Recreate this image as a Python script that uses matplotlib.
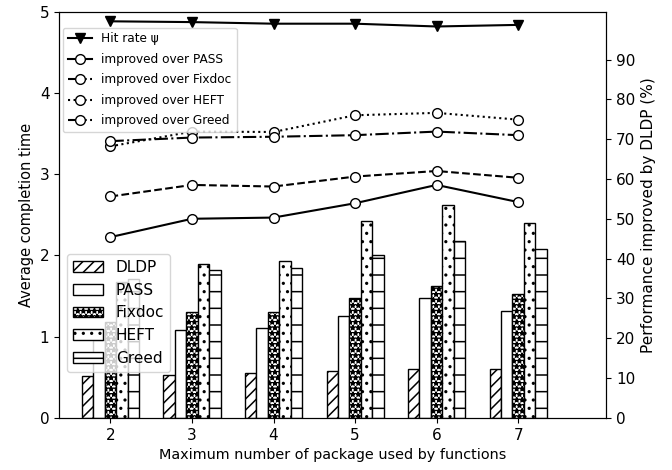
import numpy as np
import matplotlib.pyplot as plt

# maximum number of packages per function
n_pkg = np.array([2, 3, 4, 5, 6, 7])

# average completion time of each method
t_dldp = np.array([0.52, 0.53, 0.55, 0.58, 0.60, 0.60])
t_pass = np.array([0.96, 1.08, 1.10, 1.25, 1.48, 1.31])
t_fixdoc = np.array([1.18, 1.30, 1.30, 1.47, 1.62, 1.52])
t_heft = np.array([1.67, 1.89, 1.93, 2.42, 2.62, 2.40])
t_greed = np.array([1.71, 1.82, 1.85, 2.00, 2.18, 2.08])

# hit rate and improvement of DLDP over the others (%)
hit_rate = np.array([99.6, 99.4, 99.0, 99.0, 98.3, 98.7])
imp_pass = np.array([45.4, 50.0, 50.3, 53.9, 58.5, 54.2])
imp_fixdoc = np.array([55.6, 58.5, 58.1, 60.6, 62.0, 60.3])
imp_heft = np.array([68.2, 71.9, 71.8, 76.0, 76.6, 74.9])
imp_greed = np.array([69.5, 70.4, 70.6, 71.0, 71.9, 71.0])

plt.rcParams['font.family'] = 'DejaVu Sans'
plt.rcParams['hatch.linewidth'] = 1.1

fig = plt.figure(figsize=(6.72, 4.7), dpi=100)
ax1 = fig.add_axes([0.088, 0.111, 0.814, 0.864])

w = 0.14
bars = [(t_dldp, '///', 'DLDP'), (t_pass, '', 'PASS'), (t_fixdoc, '***', 'Fixdoc'),
        (t_heft, '..', 'HEFT'), (t_greed, '-', 'Greed')]
for i, (vals, hatch, name) in enumerate(bars):
    ax1.bar(n_pkg + (i - 2) * w, vals, w, color='white', edgecolor='black',
            hatch=hatch, linewidth=1.0, label=name)

ax1.set_xlim(1.37, 8.08)
ax1.set_ylim(0, 5)
ax1.set_xticks(n_pkg)
ax1.set_xlabel('Maximum number of package used by functions', fontsize=10.4)
ax1.set_ylabel('Average completion time', fontsize=10.5)
ax1.tick_params(labelsize=11)
ax1.legend(loc='lower left', bbox_to_anchor=(0.0, 0.095), fontsize=11,
           handlelength=2.0, borderaxespad=0.5)

ax2 = ax1.twinx()
ax2.plot(n_pkg, hit_rate, '-v', color='black', markersize=7, label='Hit rate ψ')
styles = [(imp_pass, '-', 'improved over PASS'),
          (imp_fixdoc, '--', 'improved over Fixdoc'),
          (imp_heft, ':', 'improved over HEFT'),
          (imp_greed, '-.', 'improved over Greed')]
for vals, ls, name in styles:
    ax2.plot(n_pkg, vals, linestyle=ls, color='black', marker='o', markersize=7,
             markerfacecolor='white', markeredgecolor='black', linewidth=1.5,
             label=name)
ax2.set_ylim(0, 102)
ax2.set_yticks(np.arange(0, 100, 10))
ax2.tick_params(labelsize=11)
ax2.set_ylabel('Performance improved by DLDP (%)', fontsize=11)
ax2.legend(loc='upper left', bbox_to_anchor=(0.0, 0.97), fontsize=8.7,
           labelspacing=0.62, handlelength=2.0, borderaxespad=0.3)

fig.savefig('out.png', dpi=100)
